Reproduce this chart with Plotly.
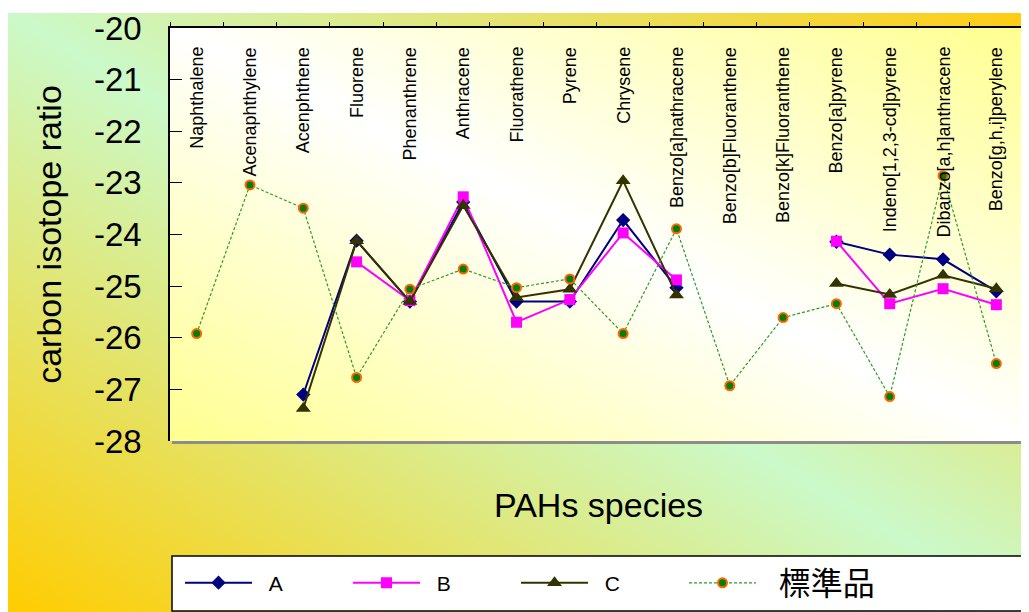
import base64
import plotly.graph_objects as go

categories = ["Naphthalene", "Acenaphthylene", "Acenphthene", "Fluorene", "Phenanthrene",
              "Anthracene", "Fluorathene", "Pyrene", "Chrysene", "Benzo[a]nathracene",
              "Benzo[b]Fluoranthene", "Benzo[k]Fluoranthene", "Benzo[a]pyrene",
              "Indeno[1,2,3-cd]pyrene", "Dibanzo[a,h]anthracene", "Benzo[g,h,i]perylene"]

series_a = [None, None, -27.10, -24.12, -25.30, -23.37, -25.30, -25.30, -23.72, -25.03,
            None, None, -24.14, -24.39, -24.48, -25.10]
series_b = [None, None, None, -24.53, -25.28, -23.27, -25.70, -25.26, -23.97, -24.88,
            None, None, -24.13, -25.34, -25.05, -25.36]
series_c = [None, None, -27.37, -24.12, -25.30, -23.44, -25.22, -25.06, -22.96, -25.17,
            None, None, -24.95, -25.16, -24.79, -25.05]
standard = [-25.92, -23.04, -23.49, -26.77, -25.06, -24.67, -25.03, -24.86, -25.92, -23.89,
            -26.93, -25.61, -25.34, -27.14, -22.86, -26.50]

y_ticks = [-20, -21, -22, -23, -24, -25, -26, -27, -28]

# page body has an 8px margin; figure sized to fit the 1029x612 window
OFF = 8
W, H = 1029 - OFF, 612 - OFF
ML, MT = 170 - OFF, 28 - OFF
PW, PH = 853, 413
MR = W - ML - PW
MB = H - MT - PH


def svg_uri(svg):
    return "data:image/svg+xml;base64," + base64.b64encode(svg.encode("utf-8")).decode("ascii")


paper_svg = f'''<svg xmlns="http://www.w3.org/2000/svg" width="{W}" height="{H}" viewBox="0 0 {W} {H}" preserveAspectRatio="none">
<defs><linearGradient id="g" x1="0" y1="1" x2="1" y2="0">
<stop offset="0" stop-color="#ffcc00"/><stop offset="0.5" stop-color="#cbf9c9"/><stop offset="1" stop-color="#ffcc11"/>
</linearGradient></defs>
<rect x="0" y="0" width="{W}" height="{H}" fill="#ffffff"/>
<rect x="0" y="5" width="{W}" height="{H-5}" fill="url(#g)"/>
</svg>'''

plot_svg = f'''<svg xmlns="http://www.w3.org/2000/svg" width="{PW}" height="{PH}" viewBox="0 0 {PW} {PH}" preserveAspectRatio="none">
<defs><linearGradient id="p" x1="0" y1="1" x2="1" y2="0">
<stop offset="0" stop-color="#ffff90"/><stop offset="0.5" stop-color="#ffffff"/><stop offset="1" stop-color="#ffff90"/>
</linearGradient></defs>
<rect x="0" y="0" width="{PW}" height="{PH}" fill="url(#p)"/>
</svg>'''


def fx(px):  # screen pixel -> paper x
    return (px - OFF - ML) / PW


def fy(py):  # screen pixel -> paper y
    return (H - MB - (py - OFF)) / PH


fig = go.Figure()

fig.add_trace(go.Scatter(x=categories, y=series_a, name="\u00a0\u00a0A", mode="lines+markers",
                         line=dict(color="#000080", width=2),
                         marker=dict(symbol="diamond", size=11, color="#000080")))
fig.add_trace(go.Scatter(x=categories, y=series_b, name="\u00a0\u00a0B", mode="lines+markers",
                         line=dict(color="#ff00ff", width=2),
                         marker=dict(symbol="square", size=11, color="#ff00ff")))
fig.add_trace(go.Scatter(x=categories, y=series_c, name="\u00a0\u00a0C", mode="lines+markers",
                         line=dict(color="#333300", width=2),
                         marker=dict(symbol="triangle-up", size=13, color="#333300")))
fig.add_trace(go.Scatter(x=categories, y=standard, name="\u00a0\u00a0標準品",
                         mode="lines+markers", legend="legend2",
                         line=dict(color="#2e9a2e", width=1.2, dash="3px,2px"),
                         marker=dict(symbol="circle", size=9, color="#008000",
                                     line=dict(color="#ff6600", width=2))))

annotations = [
    dict(text="PAHs species", xref="paper", yref="paper", x=fx(598), y=fy(505),
         xanchor="center", yanchor="middle", showarrow=False,
         font=dict(size=34, family="Liberation Sans, Arial")),
]
for cat in categories:
    annotations.append(dict(text=cat, xref="x", yref="paper", x=cat, y=fy(45),
                            xanchor="center", yanchor="top", textangle=-90, showarrow=False,
                            font=dict(size=18, family="Liberation Sans, Arial")))

fig.update_layout(
    width=W, height=H,
    margin=dict(l=ML, r=MR, t=MT, b=MB, autoexpand=False),
    paper_bgcolor="#ffffff",
    plot_bgcolor="rgba(0,0,0,0)",
    font=dict(family="Liberation Sans, Arial, sans-serif", color="#000000"),
    showlegend=True,
    legend=dict(orientation="h", x=fx(180), y=fy(583), xanchor="left", yanchor="middle",
                bgcolor="rgba(0,0,0,0)", borderwidth=0,
                font=dict(size=21, family="Liberation Sans, Noto Sans CJK TC"),
                itemwidth=67, entrywidth=86, entrywidthmode="pixels"),
    legend2=dict(orientation="h", x=fx(684), y=fy(583), xanchor="left", yanchor="middle",
                 bgcolor="rgba(0,0,0,0)", borderwidth=0,
                 font=dict(size=32, family="Liberation Sans, Noto Sans CJK TC"),
                 itemwidth=67),
    xaxis=dict(type="category", categoryorder="array", categoryarray=categories,
               range=[-0.5, len(categories) - 0.5], side="top",
               showline=True, linecolor="#000000", linewidth=1.5,
               ticks="outside", ticklen=4, tickwidth=1, tickcolor="#000000",
               tickson="boundaries", showticklabels=False,
               showgrid=False, zeroline=False, fixedrange=True),
    yaxis=dict(range=[-28, -20], tickvals=y_ticks, ticktext=[str(v) for v in y_ticks],
               showline=True, linecolor="#000000", linewidth=1.5,
               ticks="inside", ticklen=12, tickwidth=1, tickcolor="#000000",
               ticklabelstandoff=20,
               tickfont=dict(size=33, family="Liberation Sans, Arial"),
               title=dict(text="carbon isotope ratio", font=dict(size=34), standoff=22),
               showgrid=False, zeroline=False, fixedrange=True),
    images=[
        dict(source=svg_uri(paper_svg), xref="paper", yref="paper",
             x=-ML / PW, y=(H - MB) / PH, sizex=W / PW, sizey=H / PH,
             xanchor="left", yanchor="top", sizing="stretch", layer="below"),
        dict(source=svg_uri(plot_svg), xref="paper", yref="paper",
             x=0, y=1, sizex=1, sizey=1,
             xanchor="left", yanchor="top", sizing="stretch", layer="below"),
    ],
    shapes=[
        dict(type="rect", xref="paper", yref="paper", x0=1, x1=1 + 3 / PW,
             y0=-3 / PH, y1=1 - 2 / PH, fillcolor="#8c8c8c", line=dict(width=0),
             layer="below"),
        dict(type="rect", xref="paper", yref="paper", x0=2 / PW, x1=1 + 3 / PW,
             y0=-3 / PH, y1=0, fillcolor="#8c8c8c", line=dict(width=0),
             layer="below"),
        dict(type="rect", xref="paper", yref="paper", x0=fx(172), x1=fx(1022),
             y0=fy(611), y1=fy(556), fillcolor="#ffffff",
             line=dict(color="#000000", width=1.5), layer="below"),
    ],
    annotations=annotations,
)

fig.write_html("out.html")
